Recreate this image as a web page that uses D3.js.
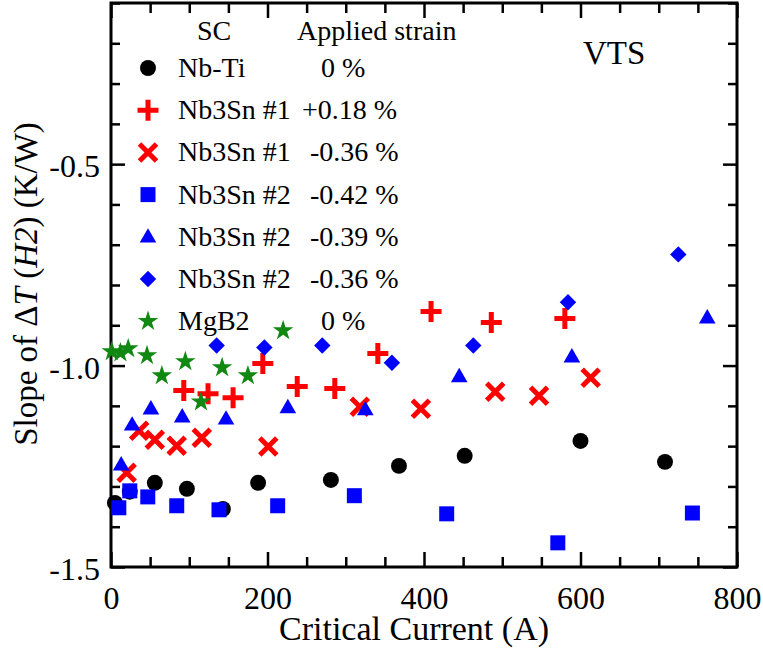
<!DOCTYPE html>
<meta charset="utf-8">
<style>
  body { margin: 0; background: #fff; }
  text { font-family: "Liberation Serif", "Times New Roman", serif; fill: #000; }
</style>
<svg width="763" height="649"></svg>
<script src="https://d3js.org/d3.v7.min.js"></script>
<script>

// critical current (A) and slope (K/W) per sample
var nbtiI   = [5, 24, 56, 97, 143, 188, 281, 368, 452, 600, 708],
    nbtiS   = [-1.341, -1.313, -1.291, -1.306, -1.356, -1.291, -1.284, -1.249, -1.224, -1.187, -1.239];
var sn1pI   = [93, 124, 156, 194, 238, 286, 341, 409, 486, 580],
    sn1pS   = [-1.062, -1.070, -1.080, -0.995, -1.052, -1.057, -0.970, -0.866, -0.893, -0.883];
var sn1mI   = [20, 36, 56, 84, 116, 201, 318, 396, 491, 547, 613],
    sn1mS   = [-1.266, -1.162, -1.184, -1.199, -1.179, -1.201, -1.102, -1.107, -1.065, -1.075, -1.030];
var sn2aI   = [10, 24, 47, 84, 138, 213, 311, 429, 571, 743],
    sn2aS   = [-1.353, -1.311, -1.326, -1.348, -1.358, -1.348, -1.323, -1.368, -1.440, -1.366];
var sn2bI   = [13, 27, 51, 91, 147, 226, 325, 445, 589, 762],
    sn2bS   = [-1.246, -1.147, -1.107, -1.127, -1.132, -1.104, -1.109, -1.027, -0.978, -0.881];
var sn2cI   = [135, 196, 270, 359, 463, 584, 725],
    sn2cS   = [-0.950, -0.955, -0.950, -0.993, -0.950, -0.843, -0.724];
var mgb2I   = [1, 12, 22, 46, 65, 95, 115, 142, 175, 220],
    mgb2S   = [-0.965, -0.968, -0.958, -0.975, -1.025, -0.990, -1.090, -1.005, -1.025, -0.913];

var names   = ["Nb-Ti", "Nb3Sn #1", "Nb3Sn #1", "Nb3Sn #2", "Nb3Sn #2", "Nb3Sn #2", "MgB2"],
    strains = ["0 %", "+0.18 %", "-0.36 %", "-0.42 %", "-0.39 %", "-0.36 %", "0 %"],
    colors  = ["#000000", "#ff0000", "#ff0000", "#0000ff", "#0000ff", "#0000ff", "#118811"],
    shapes  = ["circle", "plus", "cross", "square", "triangle", "diamond", "star"];

var xMajor = [0, 200, 400, 600, 800],
    yMajor = [-1.5, -1.0, -0.5];

var seriesI = [nbtiI, sn1pI, sn1mI, sn2aI, sn2bI, sn2cI, mgb2I],
    seriesS = [nbtiS, sn1pS, sn1mS, sn2aS, sn2bS, sn2cS, mgb2S];

var svg = d3.select("svg"),
    pL = 111, pR = 737, pT = 3, pB = 567;

var x = d3.scaleLinear().domain([0, 800]).range([pL, pR]),
    y = d3.scaleLinear().domain([-1.5, -0.1]).range([pB, pT]);

var xMinor = d3.range(0, 801, 50).filter(function(v) { return v % 200 != 0; }),
    yMinor = d3.range(-14, 0).map(function(v) { return v / 10; }).filter(function(v) { return v != -1.0 && v != -0.5; });

function styleAxis(g) {
  g.select(".domain").remove();
  g.selectAll("line").attr("stroke", "#000").attr("stroke-width", 2.5);
  g.selectAll("text").style("font-size", "32px");
}

// ticks point inward on all four sides
svg.append("g").attr("transform", "translate(0," + pB + ")")
    .call(d3.axisBottom(x).tickValues(xMajor).tickSize(-15).tickPadding(19).tickFormat(d3.format("d")))
    .call(styleAxis);
svg.append("g").attr("transform", "translate(0," + pB + ")")
    .call(d3.axisBottom(x).tickValues(xMinor).tickSize(-10).tickFormat(""))
    .call(styleAxis);
svg.append("g").attr("transform", "translate(0," + pT + ")")
    .call(d3.axisTop(x).tickValues(xMajor).tickSize(-15).tickFormat(""))
    .call(styleAxis);
svg.append("g").attr("transform", "translate(0," + pT + ")")
    .call(d3.axisTop(x).tickValues(xMinor).tickSize(-10).tickFormat(""))
    .call(styleAxis);
svg.append("g").attr("transform", "translate(" + pL + ",0)")
    .call(d3.axisLeft(y).tickValues(yMajor).tickSize(-14).tickPadding(11).tickFormat(function(d) { return d.toFixed(1); }))
    .call(styleAxis)
    .selectAll("text").attr("dy", "0.4em");
svg.append("g").attr("transform", "translate(" + pL + ",0)")
    .call(d3.axisLeft(y).tickValues(yMinor).tickSize(-9).tickFormat(""))
    .call(styleAxis);
svg.append("g").attr("transform", "translate(" + pR + ",0)")
    .call(d3.axisRight(y).tickValues(yMajor).tickSize(-14).tickFormat(""))
    .call(styleAxis);
svg.append("g").attr("transform", "translate(" + pR + ",0)")
    .call(d3.axisRight(y).tickValues(yMinor).tickSize(-9).tickFormat(""))
    .call(styleAxis);

svg.append("rect")
    .attr("x", pL).attr("y", pT)
    .attr("width", pR - pL).attr("height", pB - pT)
    .attr("fill", "none").attr("stroke", "#000").attr("stroke-width", 3);

// marker drawing
function marker(sel, shape, color) {
  if (shape == "plus" || shape == "cross") {
    sel.append("path")
      .attr("d", shape == "plus" ? "M-10.5,0H10.5M0,-10.5V10.5" : "M-8.5,-8.5L8.5,8.5M-8.5,8.5L8.5,-8.5")
      .attr("fill", "none").attr("stroke", color).attr("stroke-width", 5);
    return;
  }
  var sym = { circle: d3.symbolCircle, square: d3.symbolSquare, triangle: d3.symbolTriangle,
              diamond: d3.symbolSquare, star: d3.symbolStar }[shape],
      size = { circle: 200, square: 225, triangle: 120, diamond: 135, star: 130 }[shape];
  sel.append("path")
    .attr("d", d3.symbol().type(sym).size(size)())
    .attr("transform", shape == "diamond" ? "rotate(45)" : shape == "triangle" ? "translate(0,1)" : null)
    .attr("fill", color);
}

seriesI.forEach(function(xs, k) {
  var pts = xs.map(function(v, i) { return [v, seriesS[k][i]]; });
  svg.append("g").selectAll("g")
    .data(pts)
    .enter().append("g")
      .attr("transform", function(d) { return "translate(" + x(d[0]) + "," + y(d[1]) + ")"; })
      .each(function() { marker(d3.select(this), shapes[k], colors[k]); });
});

// legend
var legend = svg.append("g").style("font-size", "28px");
legend.append("text").attr("x", 197).attr("y", 40).text("SC");
legend.append("text").attr("x", 297).attr("y", 40).text("Applied strain");
names.forEach(function(n, i) {
  var base = 77 + i * 42.2;
  legend.append("g").attr("transform", "translate(148," + (base - 9) + ")")
    .call(marker, shapes[i], colors[i]);
  legend.append("text").attr("x", 178).attr("y", base).text(n);
  var s = strains[i],
      sx = s.charAt(0) == "+" ? 302 : s.charAt(0) == "-" ? 310 : 321;
  legend.append("text").attr("x", sx).attr("y", base).text(s);
});

svg.append("text").attr("x", 583).attr("y", 64).style("font-size", "33px").text("VTS");

// axis titles
svg.append("text")
    .attr("x", 414).attr("y", 640)
    .attr("text-anchor", "middle")
    .style("font-size", "34px")
    .text("Critical Current (A)");

var yt = svg.append("text")
    .attr("transform", "translate(37,284) rotate(-90)")
    .attr("text-anchor", "middle")
    .style("font-size", "33px");
yt.append("tspan").text("Slope of \u0394");
yt.append("tspan").style("font-style", "italic").text("T");
yt.append("tspan").text(" (");
yt.append("tspan").style("font-style", "italic").text("H2");
yt.append("tspan").text(") (K/W)");

</script>
